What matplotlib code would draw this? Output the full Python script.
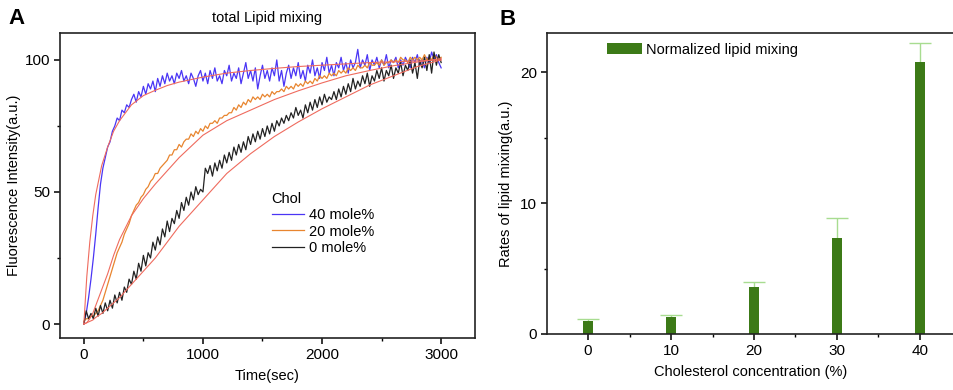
import numpy as np
import matplotlib.pyplot as plt
from matplotlib.ticker import MultipleLocator

plt.rcParams['font.family'] = ['Liberation Sans', 'DejaVu Sans']

# panel A: raw traces, sampled every 20 s from 0 to 3000 s
chol40 = [0, 4, 10, 17, 25, 34, 44, 53, 59, 63, 67, 69, 73, 75, 78, 77, 81, 80, 83, 82,
          85, 87, 84, 88, 86, 90, 87, 91, 89, 92, 88, 93, 90, 94, 91, 95, 92, 94, 91, 95,
          93, 96, 92, 94, 91, 95, 93, 90, 94, 96, 92, 95, 91, 96, 93, 97, 92, 94, 91, 96,
          94, 98, 92, 95, 93, 97, 91, 95, 99, 93, 96, 92, 97, 89, 94, 98, 93, 96, 92, 97,
          94, 100, 92, 96, 90, 95, 98, 93, 97, 94, 99, 93, 96, 92, 98, 95, 100, 94, 97, 93,
          99, 96, 101, 95, 98, 94, 99, 97, 101, 96, 99, 95, 100, 97, 99, 104, 97, 100, 98, 102,
          96, 100, 98, 101, 97, 100, 98, 102, 97, 100, 99, 101, 97, 100, 98, 101, 99, 97, 101, 99,
          102, 98, 100, 97, 101, 99, 103, 100, 102, 99, 97]
chol20 = [1, 2, 2, 3, 3, 4, 5, 7, 9, 12, 15, 18, 21, 24, 27, 29, 31, 34, 36, 38,
          41, 43, 45, 46, 48, 49, 51, 52, 54, 55, 57, 57, 59, 60, 61, 62, 64, 64, 66, 66,
          68, 67, 69, 70, 70, 72, 71, 73, 72, 74, 73, 75, 74, 76, 76, 77, 76, 78, 78, 79,
          79, 80, 80, 82, 81, 83, 82, 84, 83, 85, 84, 86, 85, 86, 85, 87, 86, 87, 86, 88,
          87, 88, 88, 89, 88, 90, 89, 90, 89, 91, 90, 91, 90, 92, 91, 92, 91, 93, 92, 94,
          93, 94, 93, 95, 94, 95, 94, 96, 95, 96, 95, 97, 96, 97, 96, 98, 97, 97, 98, 97,
          99, 98, 98, 99, 98, 100, 98, 99, 99, 100, 99, 100, 99, 101, 100, 100, 99, 101, 100, 101,
          100, 101, 100, 102, 100, 101, 100, 102, 101, 100, 101]
chol0 = [0, 5, 2, 4, 2, 6, 3, 7, 4, 8, 5, 9, 6, 11, 8, 12, 9, 14, 12, 17,
         15, 20, 17, 23, 20, 26, 22, 27, 25, 31, 28, 33, 30, 36, 33, 39, 35, 40, 38, 43,
         40, 46, 43, 48, 45, 50, 47, 52, 49, 51, 50, 59, 57, 60, 56, 61, 58, 62, 59, 64,
         61, 65, 62, 67, 64, 68, 65, 69, 66, 71, 68, 72, 69, 73, 70, 74, 71, 75, 72, 76,
         73, 77, 75, 78, 76, 79, 77, 80, 78, 82, 79, 81, 78, 83, 80, 84, 81, 85, 82, 86,
         83, 87, 84, 86, 85, 88, 85, 89, 86, 90, 87, 91, 88, 93, 89, 92, 90, 94, 91, 95,
         90, 94, 92, 96, 93, 97, 92, 96, 94, 98, 93, 97, 95, 99, 94, 98, 96, 100, 95, 99,
         93, 100, 97, 101, 96, 102, 95, 103, 98, 102, 99]

# fitted curves
fit_t = [0, 25, 50, 75, 100, 150, 200, 250, 300, 400, 500, 600, 700, 800, 1000, 1200,
         1400, 1600, 1800, 2000, 2200, 2400, 2600, 2800, 3000]
fit40 = [0, 18, 31, 41, 49, 60, 67, 73, 77, 83, 86.5, 88.5, 90.3, 91.6, 93.5, 95,
         96, 96.8, 97.5, 98, 98.5, 99, 99.3, 99.6, 100]
fit20 = [0, 0.5, 2, 4, 7, 13, 19, 26, 32, 41, 47.5, 53, 58, 63, 71.5, 77,
         81, 85, 88.3, 91.3, 94, 96, 97.8, 99.2, 100.5]
fit0 = [0, 0.5, 1, 1.5, 2.5, 4, 6, 8, 10, 15, 20, 25, 31, 37, 47, 57,
        64.5, 71, 76.5, 81.5, 86, 90.5, 94, 97.5, 100]

# panel B
conc = [0, 10, 20, 30, 40]
rates = [1.0, 1.27, 3.57, 7.3, 20.8]
rate_err = [0.12, 0.16, 0.43, 1.6, 1.45]

fig = plt.figure(figsize=(9.54, 3.9), dpi=100)

axA = fig.add_axes([0.0629, 0.1333, 0.4351, 0.7821])
lw = 0.9
for vals, col, lab in [(chol40, '#4a35f5', '40 mole%'),
                       (chol20, '#e8852f', '20 mole%'),
                       (chol0, '#222222', '0 mole%')]:
    axA.plot(np.linspace(0, 3000, len(vals)), vals, color=col, lw=lw, label=lab)
for f in (fit40, fit20, fit0):
    axA.plot(fit_t, f, color='#ef6b5e', lw=0.8)
axA.set_xlim(-200, 3285)
axA.set_ylim(-5.3, 110.2)
axA.set_xticks([0, 1000, 2000, 3000])
axA.set_yticks([0, 50, 100])
axA.xaxis.set_minor_locator(MultipleLocator(500))
axA.yaxis.set_minor_locator(MultipleLocator(25))
axA.set_xlabel('Time(sec)', fontsize=10.5, labelpad=5)
axA.set_ylabel('Fluorescence Intensity(a.u.)', fontsize=10.5, labelpad=3)
axA.set_title('total Lipid mixing', fontsize=10.5, pad=8)
axA.legend(title='Chol', loc='upper left', bbox_to_anchor=(0.51, 0.478),
           frameon=False, fontsize=10.5, title_fontsize=10.5, handlelength=2.2,
           handletextpad=0.35, labelspacing=0.15, borderpad=0, borderaxespad=0,
           alignment='left')

axB = fig.add_axes([0.5734, 0.1436, 0.4266, 0.7718])
axB.bar(conc, rates, width=1.1, color='#3c7a17', label='Normalized lipid mixing', zorder=2)
eb = axB.errorbar(conc, rates, yerr=[[0] * len(rate_err), rate_err], fmt='none',
                  ecolor='#a8dc90', elinewidth=1, capsize=8, capthick=1, zorder=1)
eb.lines[1][0].set_visible(False)
axB.set_xlim(-4.94, 44.1)
axB.set_ylim(0, 23)
axB.set_xticks(conc)
axB.set_yticks([0, 10, 20])
axB.xaxis.set_minor_locator(MultipleLocator(5))
axB.yaxis.set_minor_locator(MultipleLocator(5))
axB.spines['right'].set_visible(False)
axB.set_xlabel('Cholesterol concentration (%)', fontsize=10.5, labelpad=5)
axB.set_ylabel('Rates of lipid mixing(a.u.)', fontsize=10.5, labelpad=5)
axB.legend(loc='upper left', bbox_to_anchor=(0.147, 0.968), frameon=False, fontsize=10.5,
           handlelength=2.4, handleheight=0.8, handletextpad=0.3, borderpad=0, borderaxespad=0)

for ax in (axA, axB):
    for s in ax.spines.values():
        s.set_linewidth(1.2)
        s.set_color('#222222')
    ax.tick_params(which='major', direction='out', length=4, width=1.1, labelsize=11, pad=3)
    ax.tick_params(which='minor', direction='out', length=2.5, width=1.0)

fig.text(0.009, 0.953, 'A', fontsize=16, fontweight='bold', va='center')
fig.text(0.524, 0.950, 'B', fontsize=16, fontweight='bold', va='center')

fig.savefig('out.png', dpi=100)
